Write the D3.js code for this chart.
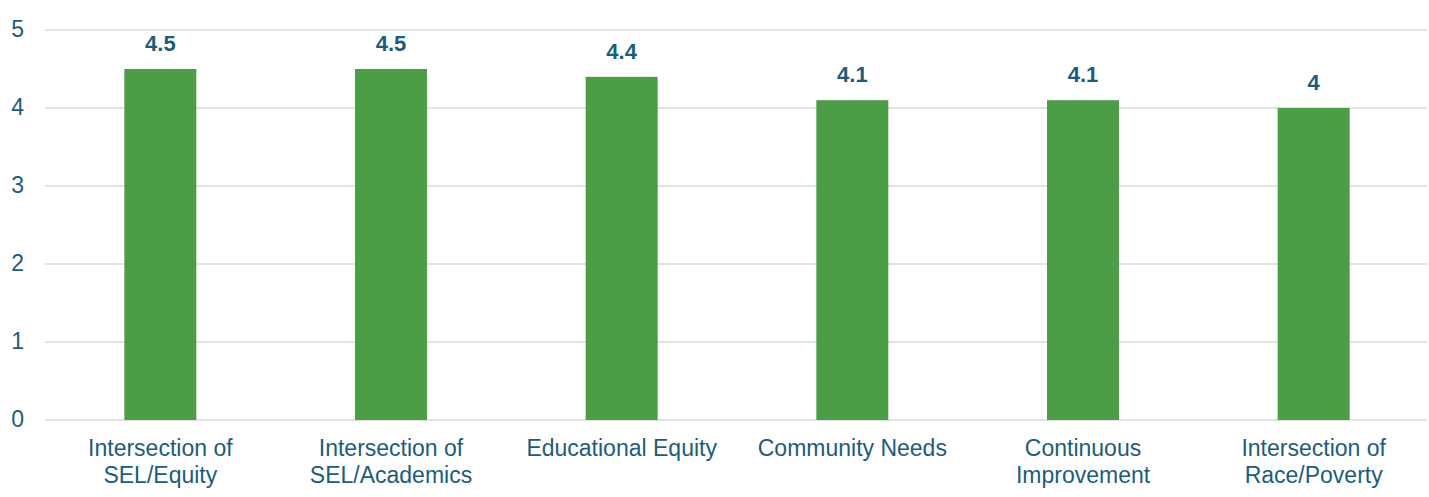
<!DOCTYPE html>
<html>
<head>
<meta charset="utf-8">
<script src="https://cdn.jsdelivr.net/npm/d3@7"></script>
<style>
  body { margin: 0; background: #fff; }
  text { font-family: "Liberation Sans", Arial, sans-serif; }
</style>
</head>
<body>
<div id="chart"></div>
<script>
// chart values
var categories = [
    ["Intersection of", "SEL/Equity"],
    ["Intersection of", "SEL/Academics"],
    ["Educational Equity"],
    ["Community Needs"],
    ["Continuous", "Improvement"],
    ["Intersection of", "Race/Poverty"]
];
var values = [4.5, 4.5, 4.4, 4.1, 4.1, 4];
var yTicks = [0, 1, 2, 3, 4, 5];

var width = 1429, height = 497;
var textColor = "#1b5d7e";

var svg = d3.select("#chart").append("svg")
    .attr("width", width)
    .attr("height", height);

var x = d3.scaleBand()
    .domain(d3.range(values.length))
    .range([45, 1429])
    .paddingInner(0.688)
    .paddingOuter(0.344);

var y = d3.scaleLinear()
    .domain([0, 5])
    .range([420, 30]);

// gridlines
svg.selectAll(".grid")
    .data(yTicks)
  .enter().append("line")
    .attr("class", "grid")
    .attr("x1", 45).attr("x2", 1427)
    .attr("y1", function (d) { return y(d); })
    .attr("y2", function (d) { return y(d); })
    .style("stroke", "#d9d9d9")
    .style("stroke-width", 1.5);

// y tick labels
svg.selectAll(".ytick")
    .data(yTicks)
  .enter().append("text")
    .attr("class", "ytick")
    .attr("x", 24)
    .attr("y", function (d) { return y(d) + 7; })
    .attr("text-anchor", "end")
    .style("font-size", "23px")
    .style("fill", textColor)
    .text(function (d) { return d; });

// bars
svg.selectAll(".bar")
    .data(values)
  .enter().append("rect")
    .attr("class", "bar")
    .attr("x", function (d, i) { return x(i); })
    .attr("width", x.bandwidth())
    .attr("y", function (d) { return y(d); })
    .attr("height", function (d) { return y(0) - y(d); })
    .style("fill", "#4c9e46");

// value labels
svg.selectAll(".value")
    .data(values)
  .enter().append("text")
    .attr("class", "value")
    .attr("x", function (d, i) { return x(i) + x.bandwidth() / 2; })
    .attr("y", function (d) { return y(d) - 18; })
    .attr("text-anchor", "middle")
    .style("font-size", "22px")
    .style("font-weight", "bold")
    .style("fill", textColor)
    .text(function (d) { return d; });

// category labels
var cat = svg.selectAll(".cat")
    .data(categories)
  .enter().append("text")
    .attr("class", "cat")
    .attr("text-anchor", "middle")
    .style("font-size", "23px")
    .style("fill", textColor);

cat.selectAll("tspan")
    .data(function (d, i) { return d.map(function (s) { return { s: s, i: i }; }); })
  .enter().append("tspan")
    .attr("x", function (d) { return x(d.i) + x.bandwidth() / 2; })
    .attr("y", function (d, j) { return 456 + j * 27; })
    .text(function (d) { return d.s; });
</script>
</body>
</html>
